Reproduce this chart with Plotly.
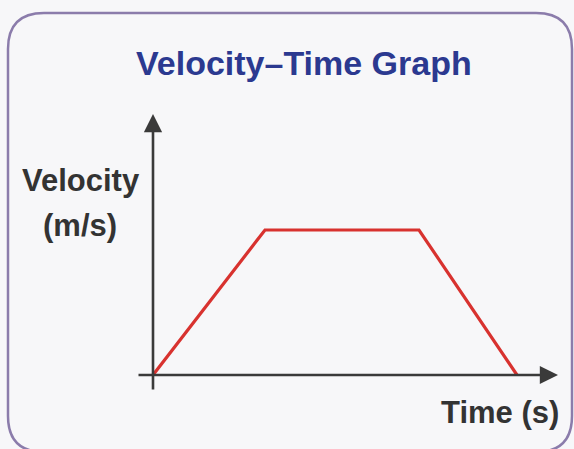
import plotly.graph_objects as go

# ---- data ----
time_s = [0, 4, 9.5, 13]
velocity = [0, 10, 10, 0]
title_text = "Velocity–Time Graph"
y_label_lines = ["Velocity", "(m/s)"]
x_label = "Time (s)"

W, H = 574, 449
# pixel placement of the axes origin and scale (layout only)
X0_PX, Y0_PX = 153, 375
PX_PER_T, PX_PER_V = 28.0, 14.5

x_range = [-X0_PX / PX_PER_T, (W - X0_PX) / PX_PER_T]
y_range = [-(H - Y0_PX) / PX_PER_V, Y0_PX / PX_PER_V]

def px(x):
    return x / W

def py(y):
    return 1 - y / H

def tx(p):  # pixel x -> data t
    return (p - X0_PX) / PX_PER_T

def vy(p):  # pixel y -> data v
    return (Y0_PX - p) / PX_PER_V

fig = go.Figure()
fig.add_trace(go.Scatter(
    x=time_s, y=velocity, mode="lines",
    line=dict(color="#d8322f", width=3.2),
    hoverinfo="skip", showlegend=False,
))

axis_col = "#3a3a3a"
label_font = dict(family="Liberation Sans", size=31, color="#333333", weight="bold")
annotations = [
    # x axis arrow
    dict(x=tx(558), y=0, ax=tx(137), ay=0, xref="x", yref="y", axref="x", ayref="y",
         showarrow=True, arrowhead=2, arrowsize=1.4, arrowwidth=2.6, arrowcolor=axis_col, text=""),
    # y axis arrow
    dict(x=0, y=vy(114), ax=0, ay=vy(391), xref="x", yref="y", axref="x", ayref="y",
         showarrow=True, arrowhead=2, arrowsize=1.4, arrowwidth=2.6, arrowcolor=axis_col, text=""),
    dict(x=px(304), y=py(63), xref="paper", yref="paper", text=title_text, showarrow=False,
         font=dict(family="Liberation Sans", size=34, color="#2b3990", weight="bold"),
         xanchor="center", yanchor="middle"),
    dict(x=px(81), y=py(181), xref="paper", yref="paper", text=y_label_lines[0], showarrow=False,
         font=label_font, xanchor="center", yanchor="middle"),
    dict(x=px(80), y=py(225), xref="paper", yref="paper", text=y_label_lines[1], showarrow=False,
         font=label_font, xanchor="center", yanchor="middle"),
    dict(x=px(500), y=py(412), xref="paper", yref="paper", text=x_label, showarrow=False,
         font=label_font, xanchor="center", yanchor="middle"),
]

# rounded border
L, T, R, B, r = 8, 13, 572, 452, 36
path = (
    f"M {px(L+r)},{py(T)} L {px(R-r)},{py(T)} Q {px(R)},{py(T)} {px(R)},{py(T+r)} "
    f"L {px(R)},{py(B-r)} Q {px(R)},{py(B)} {px(R-r)},{py(B)} "
    f"L {px(L+r)},{py(B)} Q {px(L)},{py(B)} {px(L)},{py(B-r)} "
    f"L {px(L)},{py(T+r)} Q {px(L)},{py(T)} {px(L+r)},{py(T)} Z"
)
shapes = [dict(type="path", path=path, xref="paper", yref="paper",
               line=dict(color="#8b7cab", width=2.5), layer="below")]

fig.update_layout(
    width=W, height=H, margin=dict(l=0, r=0, t=0, b=0),
    paper_bgcolor="#f7f7f9", plot_bgcolor="#f7f7f9",
    xaxis=dict(range=x_range, visible=False, fixedrange=True),
    yaxis=dict(range=y_range, visible=False, fixedrange=True),
    annotations=annotations, shapes=shapes, showlegend=False,
)

fig.write_html(
    "out.html",
    config={"displayModeBar": False},
    post_script="document.body.style.margin='0px';document.body.style.overflow='hidden';",
)
